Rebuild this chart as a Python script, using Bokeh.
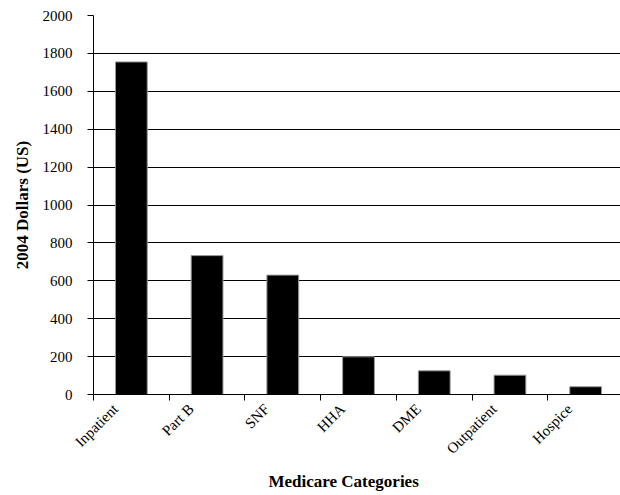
import math
from bokeh.plotting import figure
from bokeh.models import Range1d, FixedTicker, Title
from bokeh.embed import file_html
from bokeh.resources import INLINE

categories = ["Inpatient", "Part B", "SNF", "HHA", "DME", "Outpatient", "Hospice"]
values = [1755, 733, 630, 199, 125, 102, 41]
y_ticks = [0, 200, 400, 600, 800, 1000, 1200, 1400, 1600, 1800, 2000]

FONT = "Liberation Serif"

n = len(categories)
centers = [i + 0.5 for i in range(n)]
label_pos = [c - 0.21 for c in centers]

p = figure(width=620, height=495, output_backend="svg", toolbar_location=None,
           x_range=Range1d(0, n - 0.04), y_range=Range1d(0, 2000))
p.min_border_left = 93
p.min_border_top = 15
p.min_border_right = 0
p.min_border_bottom = 101
p.outline_line_color = None
p.background_fill_color = "white"
p.border_fill_color = "white"

p.vbar(x=centers, top=values, width=0.42, fill_color="black",
       line_color="#9a9a9a", line_width=1)

# y axis
p.yaxis.ticker = FixedTicker(ticks=y_ticks)
p.yaxis.axis_label = "2004 Dollars (US)"
p.yaxis.axis_label_text_font = FONT
p.yaxis.axis_label_text_font_style = "bold"
p.yaxis.axis_label_text_font_size = "17px"
p.yaxis.axis_label_text_color = "black"
p.yaxis.axis_label_standoff = 8
p.yaxis.major_label_text_font = FONT
p.yaxis.major_label_text_font_size = "15px"
p.yaxis.major_label_text_color = "black"
p.yaxis.major_tick_out = 6
p.yaxis.major_tick_in = 0
p.yaxis.minor_tick_line_color = None
p.yaxis.axis_line_color = "black"
p.yaxis.major_tick_line_color = "black"
p.yaxis.major_label_standoff = 15

# x axis
p.xaxis.ticker = FixedTicker(ticks=label_pos, minor_ticks=list(range(n + 1)))
p.xaxis.major_label_overrides = {c: name for c, name in zip(label_pos, categories)}
p.xaxis.major_label_orientation = math.pi / 4
p.xaxis.major_label_text_font = FONT
p.xaxis.major_label_text_font_size = "15px"
p.xaxis.major_label_text_color = "black"
p.xaxis.major_label_standoff = 6
p.xaxis.major_tick_line_color = None
p.xaxis.major_tick_out = 0
p.xaxis.major_tick_in = 0
p.xaxis.minor_tick_line_color = "black"
p.xaxis.minor_tick_out = 6
p.xaxis.minor_tick_in = 0
p.xaxis.axis_line_color = "black"

x_title = Title(text="Medicare Categories", align="left", offset=175,
                text_font=FONT, text_font_style="bold", text_font_size="17px",
                text_color="black", standoff=9)
p.add_layout(x_title, "below")

p.xgrid.grid_line_color = None
p.ygrid.ticker = FixedTicker(ticks=y_ticks)
p.ygrid.grid_line_color = "black"
p.ygrid.grid_line_alpha = 1.0
p.ygrid.grid_line_width = 1

open("out.html", "w").write(file_html(p, INLINE))
